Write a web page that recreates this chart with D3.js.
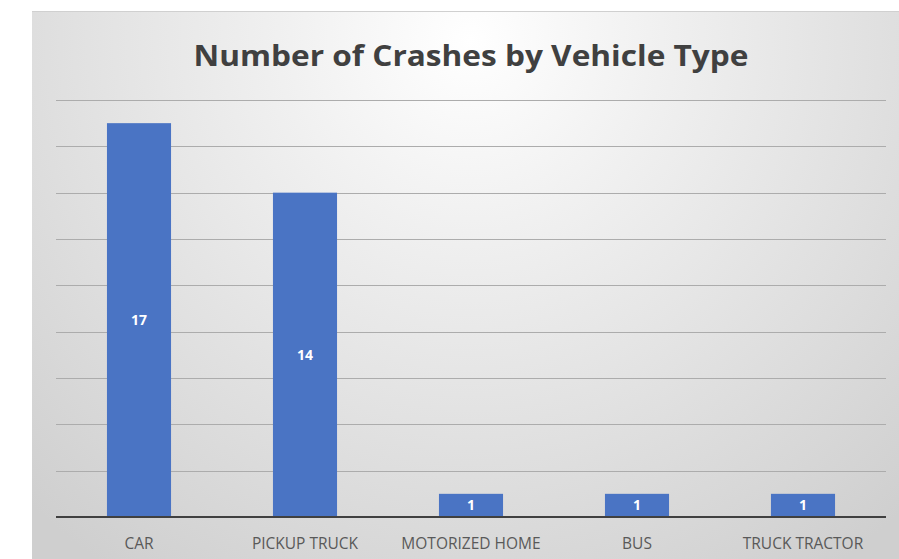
<!DOCTYPE html>
<html><head><meta charset="utf-8">
<script src="https://cdn.jsdelivr.net/npm/d3@7"></script>
<style>html,body{margin:0;padding:0;background:#fff;}svg{display:block;}</style>
</head><body>
<svg id="chart" width="899" height="559"></svg>
<script>
const categories = ["CAR", "PICKUP TRUCK", "MOTORIZED HOME", "BUS", "TRUCK TRACTOR"];
const values = [17, 14, 1, 1, 1];
const yTicks = [0, 2, 4, 6, 8, 10, 12, 14, 16, 18];
const title = "Number of Crashes by Vehicle Type";

(function () {
const svg = d3.select("#chart");
const defs = svg.append("defs");
const grad = defs.append("radialGradient").attr("id", "bg")
  .attr("gradientUnits", "userSpaceOnUse")
  .attr("cx", 470).attr("cy", 40).attr("r", 640);
grad.append("stop").attr("offset", "0%").attr("stop-color", "#ffffff");
grad.append("stop").attr("offset", "30%").attr("stop-color", "#f0f0f0");
grad.append("stop").attr("offset", "100%").attr("stop-color", "#cfcfcf");

svg.append("rect").attr("x", 32).attr("y", 11).attr("width", 899 - 32).attr("height", 559 - 11)
  .attr("fill", "url(#bg)");
svg.append("line").attr("x1", 32).attr("x2", 899).attr("y1", 11.5).attr("y2", 11.5)
  .attr("stroke", "#d0d0d0").attr("stroke-width", 1);

const mLeft = 56, mRight = 886, mTop = 100, mBottom = 517;
const x = d3.scaleBand().domain(categories).range([mLeft, mRight]).paddingInner(0.614).paddingOuter(0.307);
const y = d3.scaleLinear().domain([0, 18]).range([mBottom, mTop]);

svg.append("g").selectAll("line").data(yTicks.filter(t => t > 0)).join("line")
  .attr("x1", mLeft).attr("x2", mRight)
  .attr("y1", d => Math.round(y(d)) + 0.5).attr("y2", d => Math.round(y(d)) + 0.5)
  .attr("stroke", "#acacac").attr("stroke-width", 1);

svg.append("g").selectAll("rect").data(values).join("rect")
  .attr("x", (d, i) => x(categories[i]))
  .attr("width", x.bandwidth())
  .attr("y", d => y(d))
  .attr("height", d => y(0) - y(d))
  .attr("fill", "#4a74c4");

svg.append("line").attr("x1", mLeft).attr("x2", mRight).attr("y1", mBottom).attr("y2", mBottom)
  .attr("stroke", "#404040").attr("stroke-width", 2);

svg.append("g").selectAll("text").data(values).join("text")
  .attr("x", (d, i) => x(categories[i]) + x.bandwidth() / 2)
  .attr("y", d => (y(d) + y(0)) / 2)
  .attr("dy", "0.36em")
  .attr("text-anchor", "middle")
  .attr("font-family", "Open Sans, sans-serif").attr("font-weight", "bold")
  .attr("font-size", 14).attr("fill", "#ffffff")
  .text(d => d);

svg.append("g").selectAll("text").data(categories).join("text")
  .attr("x", d => x(d) + x.bandwidth() / 2)
  .attr("y", 549)
  .attr("text-anchor", "middle")
  .attr("font-family", "Open Sans, sans-serif")
  .attr("font-size", 15.5).attr("fill", "#595959")
  .text(d => d);

svg.append("text").attr("x", 471).attr("y", 66)
  .attr("text-anchor", "middle")
  .attr("font-family", "Open Sans, sans-serif").attr("font-weight", "bold")
  .attr("font-size", 29).attr("fill", "#404040")
  .attr("textLength", 555).attr("lengthAdjust", "spacingAndGlyphs")
  .text(title);
})();
</script>
</body></html>
